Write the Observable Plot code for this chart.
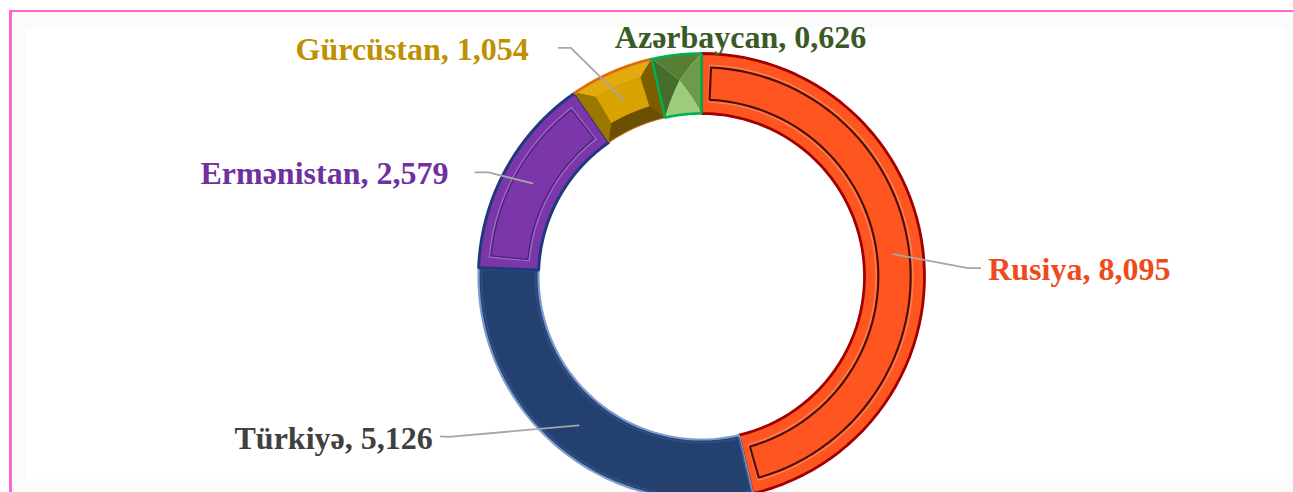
<!DOCTYPE html>
<html>
<head>
<meta charset="utf-8">
<script src="https://cdn.jsdelivr.net/npm/d3@7"></script>
<script src="https://cdn.jsdelivr.net/npm/@observablehq/plot@0.6"></script>
<style>
  html, body { margin: 0; padding: 0; background: #ffffff; }
  #wrap { position: relative; width: 1293px; height: 492px; overflow: hidden; }
  #bg { position: absolute; left: 12px; top: 12px; width: 1281px; height: 480px; background: #fbfbfb; }
  #bgInner { position: absolute; left: 14px; top: 16px; width: 1259px; height: 451px; background: #ffffff; }
  #frame { position: absolute; left: 9px; top: 10px; width: 1290px; height: 490px;
           border-top: 2px solid #ff66cc; border-left: 3px solid #ff66cc; }
  #chart { position: absolute; left: 0; top: 0; }
</style>
</head>
<body>
<div id="wrap">
  <div id="bg"><div id="bgInner"></div></div>
  <div id="frame"></div>
  <div id="chart"></div>
</div>
<script>
// ---- data ----
const countries = ["Rusiya", "Türkiyə", "Ermənistan", "Gürcüstan", "Azərbaycan"];
const values = [8.095, 5.126, 2.579, 1.054, 0.626];
const textColors = ["#ee4b1c", "#404040", "#7030a0", "#bf9000", "#3a5a27"];

// ---- layout ----
const W = 1293, H = 492;
const cx = 701, cy = 276, R = 223, r0 = 163, rMid = 193;

const pie = d3.pie().sort(null).value(d => d.value).startAngle(0).endAngle(2 * Math.PI);
const arcs = pie(countries.map((name, i) => ({name, value: values[i], color: textColors[i]})));

const pt = (a, rad) => [cx + rad * Math.sin(a), cy - rad * Math.cos(a)];
function poly(verts, steps = 60) {
  const out = [];
  for (let i = 0; i < verts.length; i++) {
    const [a1, q1] = verts[i], [a2, q2] = verts[(i + 1) % verts.length];
    for (let s = 0; s < steps; s++) {
      const t = s / steps;
      out.push(pt(a1 + t * (a2 - a1), q1 + t * (q2 - q1)));
    }
  }
  out.push(out[0]);
  return out;
}
const rect = (a0, a1, ra, rb) => [[a0, ra], [a1, ra], [a1, rb], [a0, rb]];

const faces = [];
function face(verts, fill, stroke, sw, opacity = 1) {
  faces.push({pts: poly(verts), fill, stroke, sw, opacity});
}

arcs.forEach(arc => {
  const a0 = arc.startAngle, a1 = arc.endAngle, name = arc.data.name;
  if (name === "Rusiya") {
    face(rect(a0, a1, R, r0), "#ff5520", "#a00000", 2.8);
    let d = 12, da = 8 / rMid;
    face(rect(a0 + da, a1 - da, R - d, r0 + d), "none", "#ff8a5c", 2.4, 0.7);
    face(rect(a0 + da + 0.004, a1 - da - 0.004, R - d - 1.8, r0 + d + 1.8), "none", "#3a0800", 2.2, 0.9);
  } else if (name === "Türkiyə") {
    face(rect(a0, a1, R, r0), "#23406f", "#7f9bcb", 2.2);
    face(rect(a0 + 0.006, a1 - 0.006, R - 3, r0 + 3), "none", "#2f5088", 2, 0.8);
  } else if (name === "Ermənistan") {
    face(rect(a0, a1, R, r0), "#7b37aa", "#1f3a7a", 3);
    let d = 10, da = 10 / rMid;
    face(rect(a0 + da, a1 - da, R - d, r0 + d), "none", "#a673d4", 1.4, 0.8);
    face(rect(a0 + da + 0.006, a1 - da - 0.006, R - d - 1.5, r0 + d + 1.5), "none", "#44206a", 1.3, 0.85);
  } else if (name === "Gürcüstan") {
    const d = 15, da = 14 / rMid;
    const A0 = a0 + da, A1 = a1 - da, RO = R - d, RI = r0 + d;
    face(rect(a0, a1, R, r0), "#8a6b00", "none", 0);
    face([[a0, R], [a1, R], [A1, RO], [A0, RO]], "#e2aa0c", "none", 0);
    face([[a1, R], [a1, r0], [A1, RI], [A1, RO]], "#7a5e00", "none", 0);
    face([[a1, r0], [a0, r0], [A0, RI], [A1, RI]], "#6a5000", "none", 0);
    face([[a0, r0], [a0, R], [A0, RO], [A0, RI]], "#9a7800", "none", 0);
    face(rect(A0, A1, RO, RI), "#d8a300", "none", 0);
    face([[a0, R], [a1, R]], "none", "#ee7c1c", 3);
    face(rect(a0, a1, R, r0), "none", "#b8620e", 1.2, 0.8);
  } else if (name === "Azərbaycan") {
    const am = (a0 + a1) / 2, rm = rMid + 4;
    face([[a0, R], [a1, R], [am, rm]], "#587e36", "none", 0);
    face([[a1, R], [a1, r0], [am, rm]], "#6d9b49", "none", 0);
    face([[a1, r0], [a0, r0], [am, rm]], "#9dcc7a", "none", 0);
    face([[a0, r0], [a0, R], [am, rm]], "#466c2b", "none", 0);
    face(rect(a0, a1, R, r0), "none", "#00b050", 2.6);
  }
});

// labels and leader lines, positioned relative to each slice's centroid
const labelLayout = {
  "Rusiya":     {text: [95, 16],   anchor: "start", leader: [[75, 14], [87, 14]]},
  "Türkiyə":    {text: [-146, 13], anchor: "end",   leader: [[-130, 11.5], [-138, 11]]},
  "Ermənistan": {text: [-84, -10], anchor: "end",   leader: [[-44, -11], [-57, -11]]},
  "Gürcüstan":  {text: [-95, -50], anchor: "end",   leader: [[-53, -52], [-65, -52]]},
  "Azərbaycan": {text: [-65, -47], anchor: "start", leader: null}
};

const labels = [], leaders = [];
arcs.forEach(arc => {
  const mid = (arc.startAngle + arc.endAngle) / 2;
  const [px, py] = pt(mid, rMid);
  const L = labelLayout[arc.data.name];
  labels.push({
    x: px + L.text[0], y: py + L.text[1], anchor: L.anchor,
    label: `${arc.data.name}, ${arc.data.value.toFixed(3).replace(".", ",")}`,
    color: arc.data.color
  });
  if (L.leader) {
    leaders.push({id: arc.data.name, x: px, y: py});
    L.leader.forEach(([dx, dy]) => leaders.push({id: arc.data.name, x: px + dx, y: py + dy}));
  }
});

const marks = faces.map(f => Plot.line(f.pts, {
  x: d => d[0], y: d => d[1], curve: "linear",
  fill: f.fill, stroke: f.stroke, strokeWidth: f.sw, strokeOpacity: f.opacity,
  strokeLinejoin: "miter"
}));

marks.push(Plot.line(leaders, {x: "x", y: "y", z: "id", stroke: "#a6a6a6", strokeWidth: 1.8, curve: "linear"}));

["start", "end"].forEach(anchor => {
  marks.push(Plot.text(labels.filter(d => d.anchor === anchor), {
    x: "x", y: "y", text: "label", fill: "color", textAnchor: anchor, lineAnchor: "middle",
    fontSize: 32, fontWeight: "bold", fontFamily: "'Liberation Serif', 'Times New Roman', serif"
  }));
});

const chart = Plot.plot({
  width: W, height: H, margin: 0,
  x: {domain: [0, W], range: [0, W], axis: null},
  y: {domain: [0, H], range: [0, H], axis: null},
  color: {type: "identity"},
  style: {background: "transparent", overflow: "visible"},
  marks
});
document.getElementById("chart").appendChild(chart);
</script>
</body>
</html>
